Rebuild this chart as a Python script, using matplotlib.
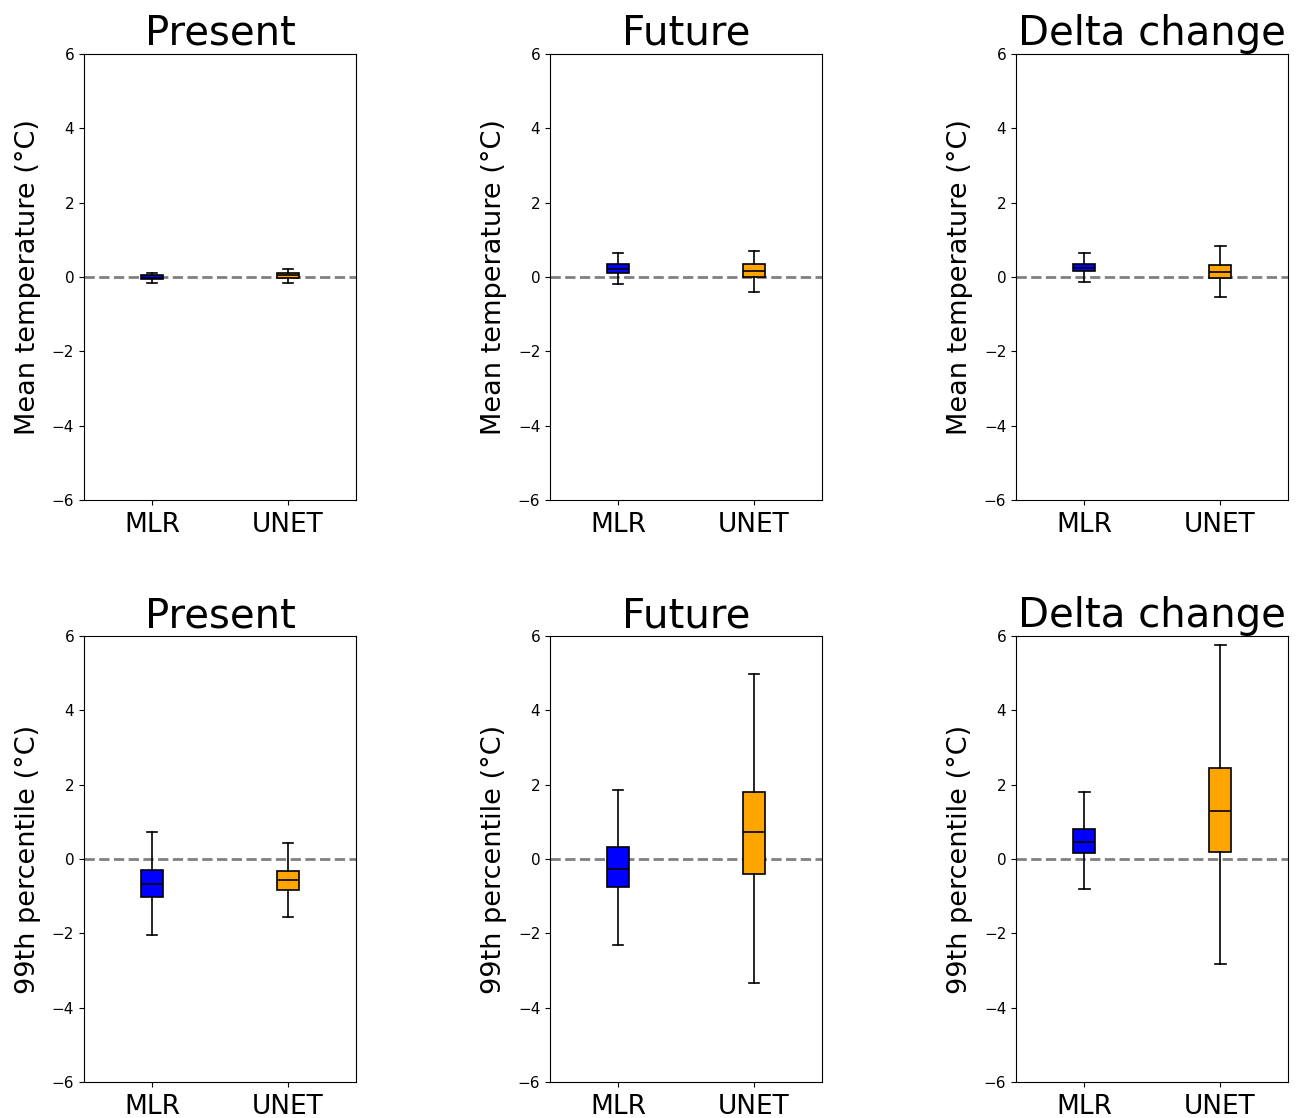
"""Boxplots of MLR vs UNET errors: mean temperature and 99th percentile."""
import matplotlib
matplotlib.use("Agg")
import matplotlib.pyplot as plt

MODELS = ["MLR", "UNET"]
COLORS = ["blue", "orange"]
PERIODS = ["Present", "Future", "Delta change"]
YLABELS = ["Mean temperature (°C)", "99th percentile (°C)"]

# per panel, per model: (whislo, q1, med, q3, whishi)
MEAN_PRESENT = [(-0.15, -0.06, -0.02, 0.05, 0.10), (-0.15, -0.04, 0.05, 0.12, 0.21)]
MEAN_FUTURE = [(-0.20, 0.10, 0.22, 0.34, 0.65), (-0.41, -0.01, 0.17, 0.34, 0.70)]
MEAN_DELTA = [(-0.13, 0.15, 0.25, 0.36, 0.65), (-0.53, -0.03, 0.14, 0.33, 0.84)]
P99_PRESENT = [(-2.04, -1.01, -0.68, -0.29, 0.73), (-1.56, -0.83, -0.57, -0.31, 0.44)]
P99_FUTURE = [(-2.31, -0.74, -0.28, 0.31, 1.87), (-3.33, -0.39, 0.74, 1.79, 4.97)]
P99_DELTA = [(-0.82, 0.15, 0.47, 0.82, 1.79), (-2.82, 0.20, 1.28, 2.44, 5.77)]

ROWS = [
    [MEAN_PRESENT, MEAN_FUTURE, MEAN_DELTA],
    [P99_PRESENT, P99_FUTURE, P99_DELTA],
]


def main():
    fig = plt.figure(figsize=(12.96, 11.18), dpi=100)
    lefts = [0.0648, 0.4244, 0.784]
    bottoms = [0.5528, 0.0322]
    w, h = 0.2099, 0.3989

    for r, row in enumerate(ROWS):
        for c, panel in enumerate(row):
            ax = fig.add_axes([lefts[c], bottoms[r], w, h])
            stats = []
            for name, (lo, q1, med, q3, hi) in zip(MODELS, panel):
                stats.append(dict(label=name, whislo=lo, q1=q1, med=med,
                                  q3=q3, whishi=hi, fliers=[]))
            ax.axhline(0, color="gray", ls="--", lw=2, zorder=1)
            bp = ax.bxp(stats, positions=[1, 2], widths=0.16, patch_artist=True,
                        showfliers=False,
                        medianprops=dict(color="black", lw=1.2),
                        boxprops=dict(lw=1.2),
                        whiskerprops=dict(lw=1.2), capprops=dict(lw=1.2))
            for patch, col in zip(bp["boxes"], COLORS):
                patch.set_facecolor(col)
                patch.set_zorder(2)
            ax.set_xlim(0.5, 2.5)
            ax.set_ylim(-6, 6)
            ax.set_yticks([-6, -4, -2, 0, 2, 4, 6])
            ax.tick_params(axis="y", labelsize=11)
            ax.tick_params(axis="x", labelsize=19, pad=5)
            ax.set_title(PERIODS[c], fontsize=29, pad=5)
            ax.set_ylabel(YLABELS[r], fontsize=19.5, labelpad=8)

    fig.savefig("out.png", dpi=100)


if __name__ == "__main__":
    main()
